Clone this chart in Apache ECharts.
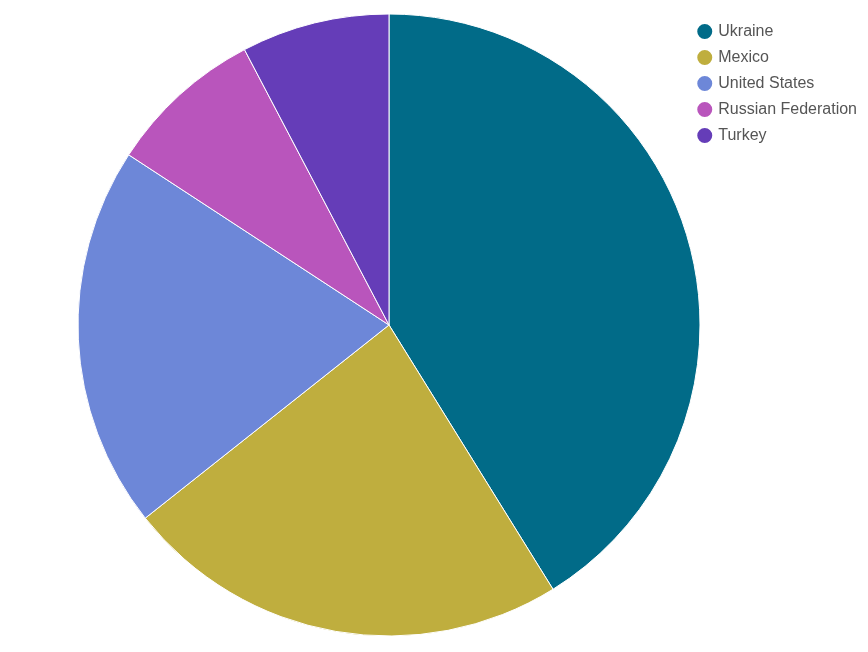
<!DOCTYPE html>
<html><head><meta charset="utf-8">
<script src="https://cdn.jsdelivr.net/npm/echarts@6/dist/echarts.min.js"></script>
<style>html,body{margin:0;padding:0;background:#fff}#c{width:868px;height:652px}</style>
</head><body><div id="c"></div>
<script>
const categories = ["Ukraine", "Mexico", "United States", "Russian Federation", "Turkey"];
const values = [41.2, 23.2, 19.9, 8.1, 7.7];
const colors = ["#016b88", "#bfae3e", "#6d87d8", "#b955bc", "#653db8"];

const chart = echarts.init(document.getElementById('c'), null, {renderer: 'canvas'});
chart.setOption({
  animation: false,
  color: colors,
  legend: {
    orient: 'vertical', right: 6, top: 17,
    icon: 'circle', itemWidth: 17, itemHeight: 17, itemGap: 7,
    textStyle: {fontFamily: 'Liberation Sans, Arial, sans-serif', fontSize: 16, color: '#555'},
    data: categories
  },
  series: [{
    type: 'pie', center: [389, 325], radius: 311, startAngle: 90, clockwise: true,
    label: {show: false}, labelLine: {show: false},
    itemStyle: {borderColor: '#fff', borderWidth: 1},
    data: categories.map((n, i) => ({name: n, value: values[i]}))
  }]
});
</script></body></html>
